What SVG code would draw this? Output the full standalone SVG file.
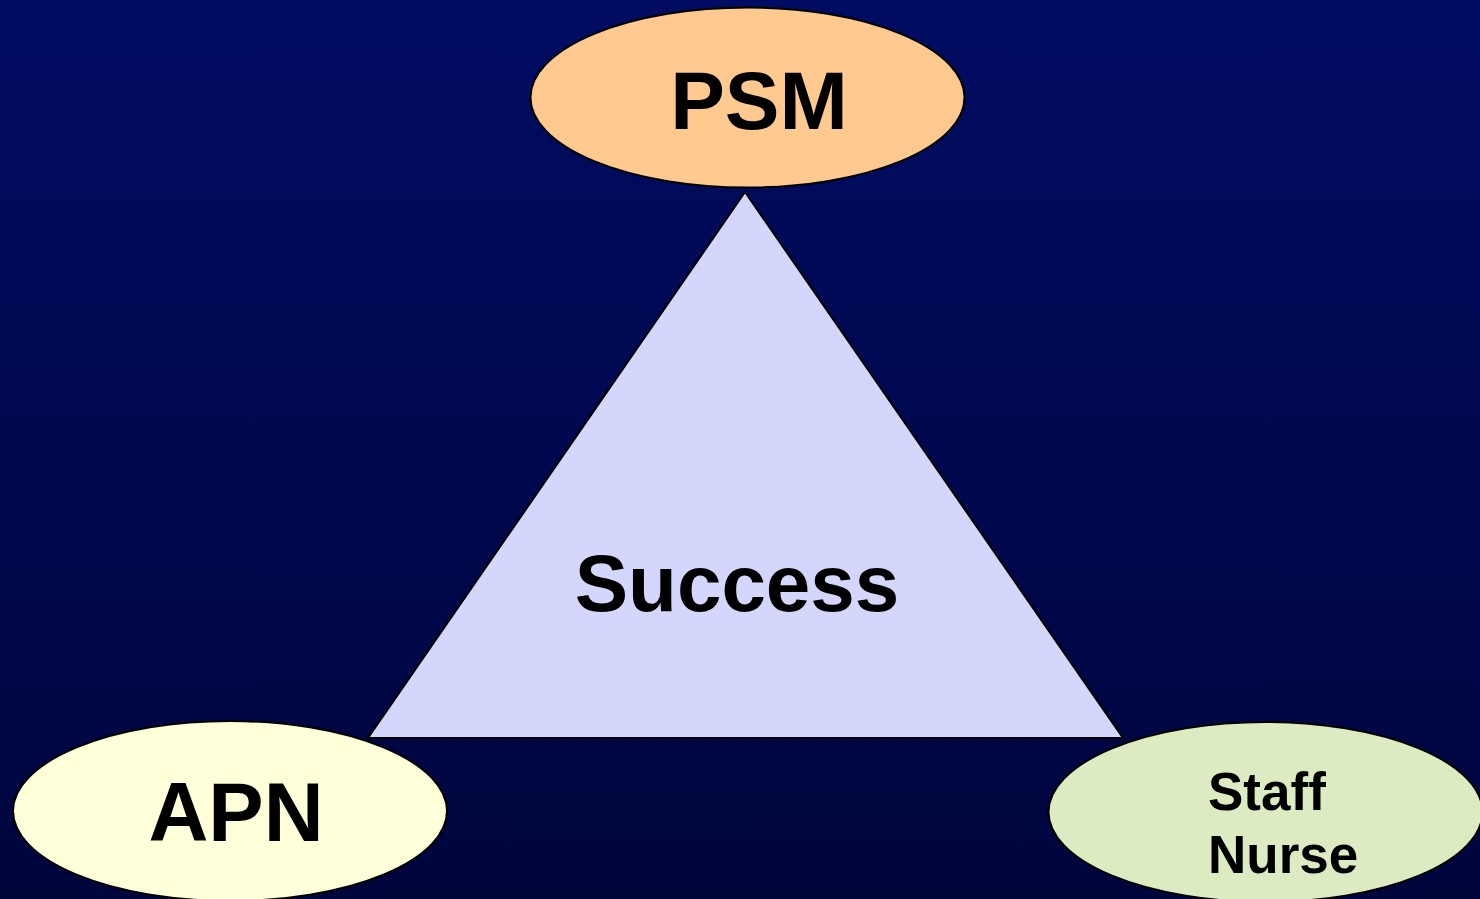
<svg xmlns="http://www.w3.org/2000/svg" width="1480" height="899" viewBox="0 0 1480 899">
  <defs>
    <linearGradient id="bg" x1="0" y1="0" x2="0" y2="1">
      <stop offset="0" stop-color="#000c62"/>
      <stop offset="1" stop-color="#00053c"/>
    </linearGradient>
  </defs>
  <style>
    .shape { stroke: #000000; stroke-width: 2; }
    .lbl { font-family: "Liberation Sans", Arial, sans-serif; font-weight: bold; fill: #000000; }
  </style>
  <rect x="0" y="0" width="1480" height="899" fill="url(#bg)"/>
  <g id="success">
    <polygon class="shape" points="745,192 1123,738 368,738" fill="#d5d6fc"/>
    <text class="lbl" x="737" y="611" font-size="80" text-anchor="middle">Success</text>
  </g>
  <g id="psm">
    <ellipse class="shape" cx="747.5" cy="97.5" rx="217" ry="90" fill="#ffc990"/>
    <text class="lbl" x="759" y="129" font-size="82" text-anchor="middle">PSM</text>
  </g>
  <g id="apn">
    <ellipse class="shape" cx="230" cy="811" rx="217" ry="90" fill="#ffffd9"/>
    <text class="lbl" x="236" y="841" font-size="83" text-anchor="middle">APN</text>
  </g>
  <g id="staff-nurse">
    <ellipse class="shape" cx="1265.5" cy="812" rx="217" ry="90" fill="#ddebc2"/>
    <text class="lbl" font-size="53">
      <tspan x="1208" y="810">Staff</tspan>
      <tspan x="1208" y="873">Nurse</tspan>
    </text>
  </g>
  <g id="connectors"/>
</svg>
